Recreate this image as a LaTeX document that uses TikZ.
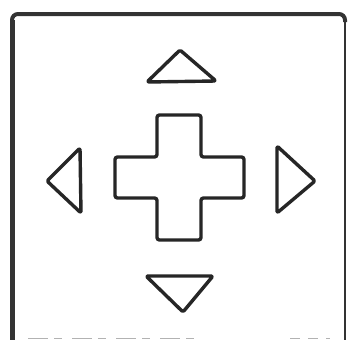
\documentclass[tikz,border=0pt]{standalone}
\begin{document}
\begin{tikzpicture}[x=1pt,y=-1pt,
  glyph/.style={draw=black!85,line width=3.4pt,line join=round,rounded corners=1.5pt},
  framestyle/.style={draw=black!80,line width=4pt}]
\useasboundingbox (0,0) rectangle (349,340);
\fill[white] (0,0) rectangle (349,340);
% frame
\draw[framestyle,line width=5pt] (12,341) -- (12,20);
\draw[framestyle,rounded corners=6pt] (12,30) -- (12,14) -- (345,14) -- (345,22);
\draw[framestyle,line width=2.6pt] (345,18) -- (345,341);
\draw[draw=black!30,line width=0.9pt,dash pattern=on 20pt off 6pt on 8pt off 10pt] (28,338.5) -- (200,338.5);
\draw[draw=black!30,line width=0.9pt,dash pattern=on 10pt off 8pt] (290,338.5) -- (330,338.5);
% up triangle
\coordinate (uA) at (180,50);
\coordinate (uB) at (147,82);
\coordinate (uC) at (216,81);
\draw[glyph] (uA) -- (uB) -- (uC) -- cycle;
% down triangle
\coordinate (dA) at (146,276);
\coordinate (dB) at (213,276);
\coordinate (dC) at (183,312);
\draw[glyph] (dA) -- (dB) -- (dC) -- cycle;
% left triangle
\coordinate (lA) at (47,181);
\coordinate (lB) at (80,148);
\coordinate (lC) at (81,213);
\draw[glyph] (lA) -- (lB) -- (lC) -- cycle;
% right triangle
\coordinate (rA) at (277,146);
\coordinate (rB) at (277,213);
\coordinate (rC) at (315,181);
\draw[glyph] (rA) -- (rC) -- (rB) -- cycle;
% cross
\draw[glyph,rounded corners=2.5pt] (157,115) -- (201,115) -- (201,157) -- (244,157) -- (244,198)
  -- (201,198) -- (201,240) -- (157,240) -- (157,198) -- (115,198) -- (115,157) -- (157,157) -- cycle;
\end{tikzpicture}
\end{document}
